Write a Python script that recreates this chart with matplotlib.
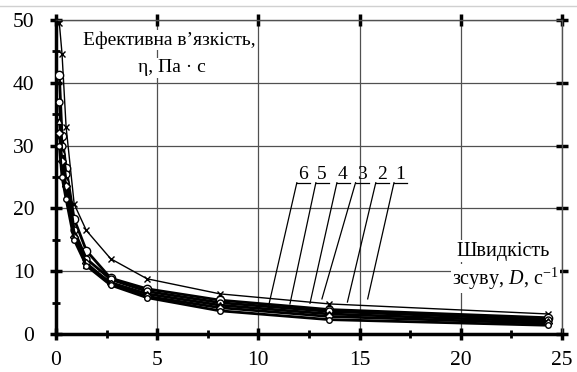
import matplotlib
matplotlib.use("Agg")
import matplotlib.pyplot as plt
from matplotlib.lines import Line2D

# Shear rate, s^-1
shear_rate = [0.1667, 0.3, 0.5, 0.9, 1.5, 2.7, 4.5, 8.1, 13.5, 24.3]

# Effective viscosity, Pa*s, for samples 1..6
visc_1 = [49.5, 44.6, 33.0, 20.7, 16.5, 12.0, 8.8, 6.4, 4.8, 3.2]
visc_2 = [41.3, 31.5, 26.5, 18.3, 13.3, 8.9, 7.2, 5.4, 3.9, 2.6]
visc_3 = [37.0, 30.0, 25.5, 16.5, 12.0, 8.7, 6.8, 5.0, 3.6, 2.3]
visc_4 = [34.0, 29.0, 24.5, 16.0, 11.0, 8.2, 6.4, 4.6, 3.2, 2.0]
visc_5 = [32.0, 27.5, 23.5, 15.5, 11.3, 8.0, 6.0, 4.2, 2.8, 1.7]
visc_6 = [30.0, 25.0, 21.5, 15.0, 10.9, 7.8, 5.8, 3.7, 2.3, 1.4]

curve_names = ["1", "2", "3", "4", "5", "6"]
x_ticks = [0, 5, 10, 15, 20, 25]
y_ticks = [0, 10, 20, 30, 40, 50]

plt.rcParams['font.family'] = ['Liberation Serif', 'DejaVu Serif']
plt.rcParams['mathtext.fontset'] = 'custom'
plt.rcParams['mathtext.it'] = 'Liberation Serif:italic'
plt.rcParams['mathtext.rm'] = 'Liberation Serif'

fig = plt.figure(figsize=(5.77, 3.72), dpi=100)
ax = fig.add_axes([0.097, 0.102, 0.877, 0.844])

# thin rule above the plot
fig.add_artist(Line2D([0.0, 1.0], [1 - 6 / 372, 1 - 6 / 372],
                      transform=fig.transFigure, color='#d0d0d0', lw=1))

series = [visc_1, visc_2, visc_3, visc_4, visc_5, visc_6]
markers = ['x', 'o', 'o', '^', 'D', 'o']
msizes = [5, 6, 5, 5, 4, 4]
widths = [1.0, 2.0, 2.0, 2.0, 2.0, 2.0]
for vals, mk, ms, lw in zip(series, markers, msizes, widths):
    ax.plot(shear_rate, vals, color='black', lw=lw, marker=mk, ms=ms,
            mfc='white', mec='black', mew=1.0, zorder=3)

ax.set_xlim(0, 25)
ax.set_ylim(0, 50)
ax.set_xticks(x_ticks)
ax.set_yticks(y_ticks)
ax.set_xticks([2.5, 7.5, 12.5, 17.5, 22.5], minor=True)
ax.set_yticks([5, 15, 25, 35, 45], minor=True)
ax.grid(True, which='major', color='#505050', lw=0.9)
ax.set_axisbelow(True)

for side in ('left', 'bottom'):
    ax.spines[side].set_linewidth(2.5)
for side in ('right', 'top'):
    ax.spines[side].set_linewidth(1.0)
    ax.spines[side].set_color('#505050')

ax.tick_params(which='major', direction='inout', length=9, width=2.5,
               labelsize=15.5, top=True, right=True)
ax.tick_params(which='minor', direction='inout', length=6, width=2,
               top=False, right=False)
ax.tick_params(axis='x', which='major', pad=8)
ax.tick_params(axis='y', which='major', pad=11)

box = dict(facecolor='white', edgecolor='none', pad=1)
ax.text(5.6, 46.8, "Ефективна в’язкість,", ha='center', va='center',
        fontsize=14, bbox=box, zorder=4)
ax.text(5.75, 42.4, "η, Па · с", ha='center', va='center',
        fontsize=14, bbox=box, zorder=4)
ax.text(22.1, 13.2, "Швидкість", ha='center', va='center',
        fontsize=14.5, bbox=box, zorder=4)
ax.text(22.2, 8.8, r"зсуву, $D$, с$^{-1}$", ha='center', va='center',
        fontsize=14.5, bbox=box, zorder=4)

# numbered leader lines for each curve
label_x = [17.0, 16.1, 15.1, 14.18, 13.14, 12.2]
tip_pts = [(15.4, 5.6), (14.4, 5.1), (13.14, 5.6), (12.55, 4.9),
           (11.56, 4.8), (10.47, 4.0)]
for name, lx, (tx, ty) in zip(curve_names, label_x, tip_pts):
    ax.text(lx, 25.4, name, ha='center', va='center', fontsize=14, zorder=4)
    ax.plot([lx - 0.3, lx + 0.35], [24.1, 24.1], color='black', lw=0.9, zorder=4)
    ax.plot([lx - 0.3, tx], [24.1, ty], color='black', lw=0.9, zorder=4)

fig.savefig("out.png", dpi=100)
